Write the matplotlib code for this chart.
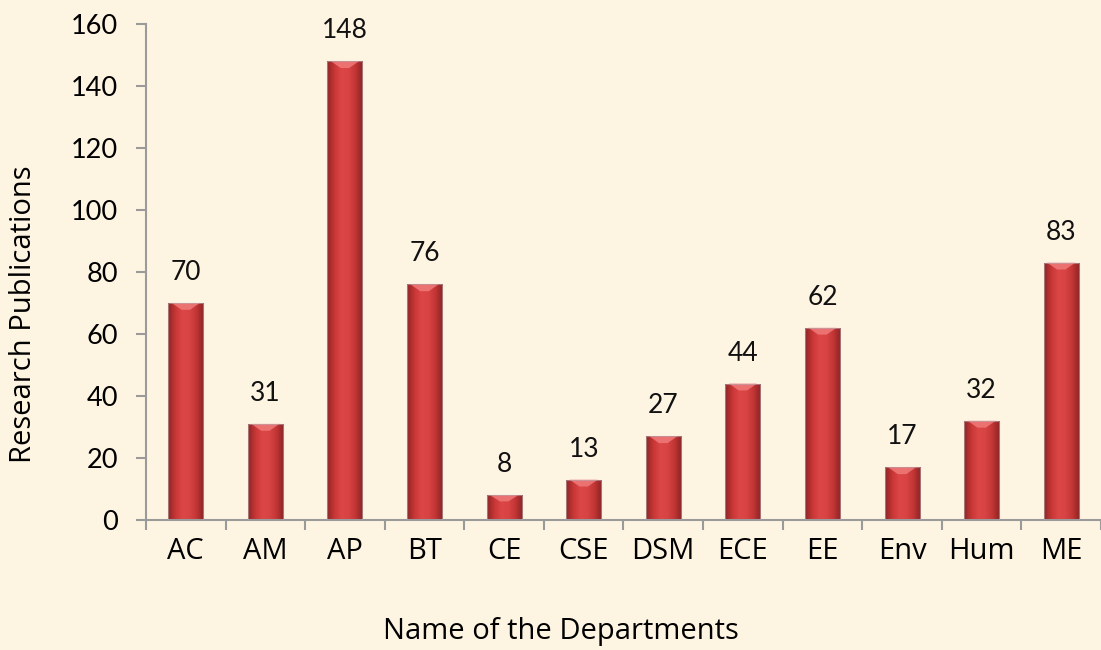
import matplotlib as mpl

mpl.use("Agg")

import matplotlib.pyplot as plt
import numpy as np
from matplotlib.colors import LinearSegmentedColormap
from matplotlib.patches import Polygon, Rectangle

departments = ["AC", "AM", "AP", "BT", "CE", "CSE", "DSM", "ECE", "EE", "Env", "Hum", "ME"]
publications = [70, 31, 148, 76, 8, 13, 27, 44, 62, 17, 32, 83]
y_ticks = [0, 20, 40, 60, 80, 100, 120, 140, 160]

BG = "#fef4e2"
AXIS_GRAY = "#9a9a9a"
NUM_FONT = ["Lato", "DejaVu Sans"]

# horizontal shading across a bar: dark edges, bright left-of-centre
bar_cmap = LinearSegmentedColormap.from_list(
    "bar", ["#8e2525", "#c83636", "#dc4646", "#d84343", "#c23535", "#8a2424"]
)

mpl.rcParams["font.family"] = ["Open Sans", "DejaVu Sans"]

fig = plt.figure(figsize=(11.01, 6.5), dpi=100, facecolor=BG)
ax = fig.add_axes([0.1326, 0.2, 0.8674, 0.7631], facecolor=BG)

n = len(departments)
x = np.arange(n)
width = 0.44

bars = ax.bar(x, publications, width=width, color="none", edgecolor="none", zorder=2)
grad = np.linspace(0, 1, 64).reshape(1, -1)
for bar in bars:
    x0, w, h = bar.get_x(), bar.get_width(), bar.get_height()
    im = ax.imshow(grad, cmap=bar_cmap, aspect="auto", extent=(x0, x0 + w, 0, h),
                   interpolation="bicubic", zorder=2)
    im.set_clip_path(bar)
    # lighter bevelled cap on top of each bar
    cap = min(2.2, h * 0.25)
    ax.add_patch(Polygon([(x0 + w * 0.1, h), (x0 + w * 0.9, h),
                          (x0 + w * 0.62, h - cap), (x0 + w * 0.38, h - cap)],
                         closed=True, facecolor="#f07a7a", edgecolor="none", alpha=0.85, zorder=3))
    ax.add_patch(Rectangle((x0, 0), w, h, facecolor="none", edgecolor="#b7a9b0",
                           linewidth=0.8, alpha=0.6, zorder=3))

for xi, v in zip(x, publications):
    ax.annotate(str(v), (xi, v), xytext=(0, 22), textcoords="offset points",
                ha="center", va="center", fontsize=19, family=NUM_FONT, color="#111111")

ax.set_xlim(-0.5, n - 0.5)
ax.set_ylim(0, 160)
ax.set_yticks(y_ticks)
ax.set_yticklabels([str(t) for t in y_ticks], family=NUM_FONT, fontsize=19.5)
ax.set_xticks(x)
ax.set_xticklabels(departments, fontsize=21)
ax.set_xticks(np.arange(-0.5, n, 1.0), minor=True)
ax.tick_params(axis="x", which="major", length=0, pad=12)
ax.tick_params(axis="x", which="minor", length=7, width=1.5, color=AXIS_GRAY)
ax.tick_params(axis="y", length=7, width=1.5, color=AXIS_GRAY, pad=13)

for side in ["top", "right"]:
    ax.spines[side].set_visible(False)
for side in ["left", "bottom"]:
    ax.spines[side].set_color(AXIS_GRAY)
    ax.spines[side].set_linewidth(1.5)

fig.text(24 / 1101, 1 - 314 / 650, "Research Publications", rotation=90,
         ha="center", va="center", fontsize=21)
fig.text(0.509, 0.028, "Name of the Departments", ha="center", va="center", fontsize=21)

fig.savefig("out.png", dpi=100, facecolor=BG)
